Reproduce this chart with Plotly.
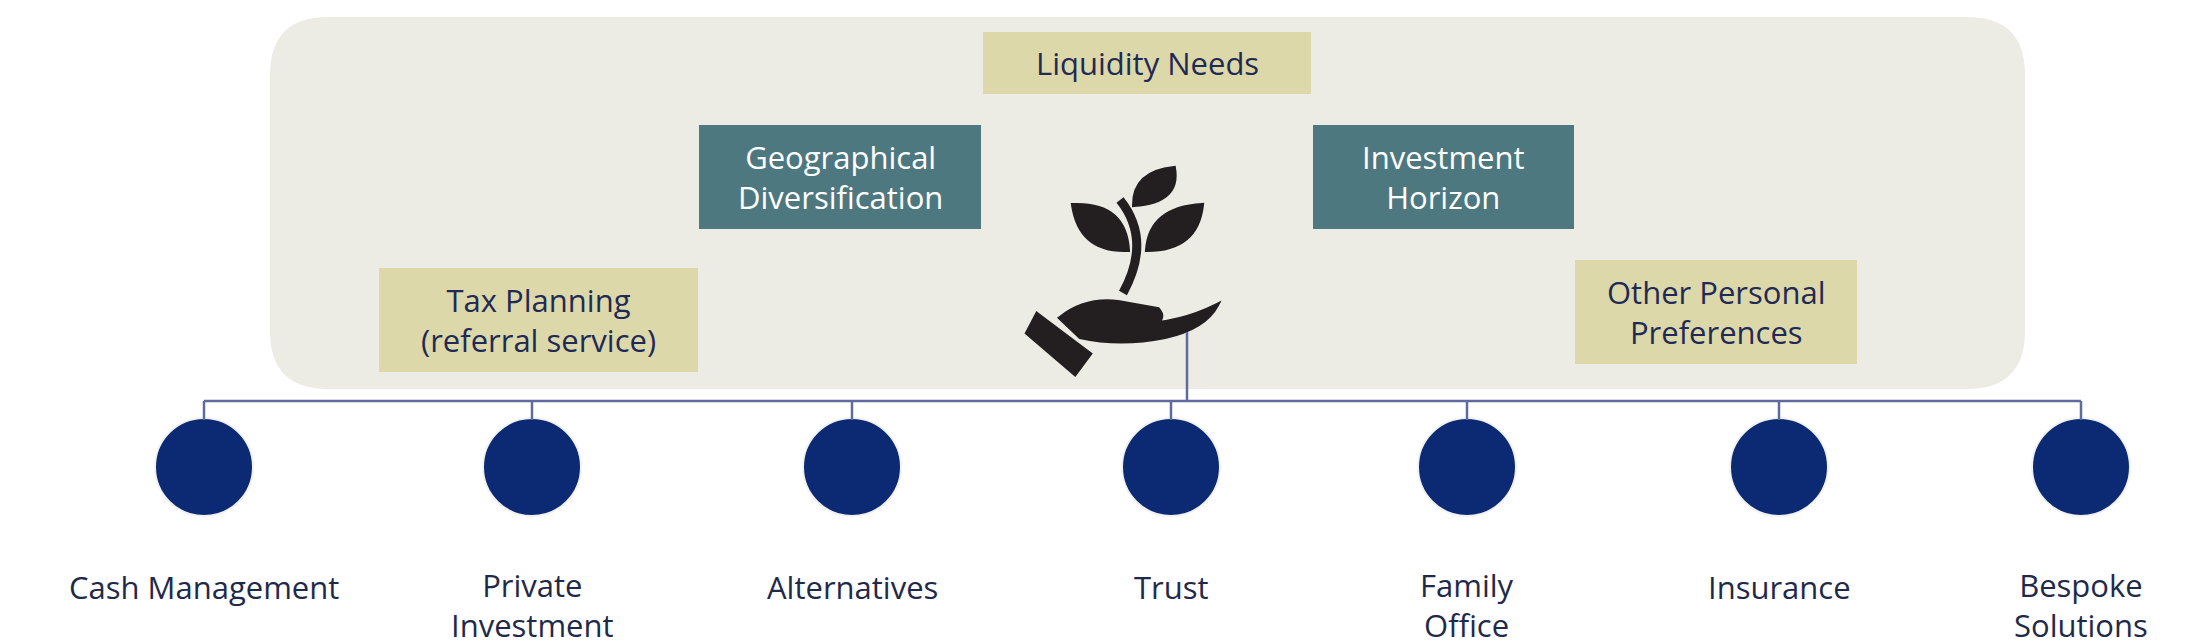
import plotly.graph_objects as go

# bottom service row
services = ['Cash Management', 'Private<br>Investment', 'Alternatives', 'Trust',
            'Family<br>Office', 'Insurance', 'Bespoke<br>Solutions']
service_x = [204, 532, 852, 1171, 1467, 1779, 2081]

# consideration boxes: label, x0, x1, y0, y1, style
boxes = [
    ('Liquidity Needs', 983, 1311, 32, 94, 'sand'),
    ('Geographical<br>Diversification', 699, 981, 125, 229, 'teal'),
    ('Investment<br>Horizon', 1313, 1574, 125, 229, 'teal'),
    ('Tax Planning<br>(referral service)', 379, 698, 268, 372, 'sand'),
    ('Other Personal<br>Preferences', 1575, 1857, 260, 364, 'sand'),
]
fills = {'sand': '#DDD8AA', 'teal': '#4E7880'}
fonts = {'sand': '#1F2A55', 'teal': '#FFFFFF'}

W, H = 2202, 644
off = 8  # page body margin
line_c = '#5F6A9E'
text_c = '#1F2A4A'
font = 'Open Sans, Lato, sans-serif'

fig = go.Figure()
shapes = []

# background panel
x0, x1, y0, y1, r = 270, 2025, 17, 389, 58
shapes.append(dict(type='path', layer='below', line=dict(width=0), fillcolor='#ECEBE4',
                   path=f'M{x0+r},{y0} L{x1-r},{y0} Q{x1},{y0} {x1},{y0+r} L{x1},{y1-r} '
                        f'Q{x1},{y1} {x1-r},{y1} L{x0+r},{y1} Q{x0},{y1} {x0},{y1-r} '
                        f'L{x0},{y0+r} Q{x0},{y0} {x0+r},{y0} Z'))

for lab, bx0, bx1, by0, by1, st in boxes:
    shapes.append(dict(type='rect', x0=bx0, x1=bx1, y0=by0, y1=by1,
                       fillcolor=fills[st], line=dict(width=0)))
    fig.add_annotation(x=(bx0 + bx1) / 2, y=(by0 + by1) / 2, text=lab, showarrow=False,
                       font=dict(family=font, size=31, color=fonts[st]), align='center')

# plant icon
ink = '#231F20'
for p in ['M1073,205 Q1125,203 1128,250 Q1080,252 1073,205 Z',
          'M1174,168 Q1180,202 1134,205 Q1134,172 1174,168 Z',
          'M1202,205 Q1197,250 1147,250 Q1150,208 1202,205 Z',
          'M1060,318 Q1085,298 1118,302 L1158,309 Q1166,318 1155,323 L1130,324 '
          'Q1175,326 1217,305 Q1205,328 1165,337 Q1120,346 1080,337 Z',
          'M1037,314 L1090,354 L1075,374 L1027,333 Z']:
    shapes.append(dict(type='path', path=p, fillcolor=ink, line=dict(color=ink, width=4)))
shapes.append(dict(type='path', path='M1120,200 Q1152,240 1123,293',
                   line=dict(color=ink, width=9)))

# connectors
shapes.append(dict(type='line', x0=1187, x1=1187, y0=332, y1=401, line=dict(color=line_c, width=2.5)))
shapes.append(dict(type='line', x0=service_x[0], x1=service_x[-1], y0=401, y1=401,
                   line=dict(color=line_c, width=2.5)))
for sx in service_x:
    shapes.append(dict(type='line', x0=sx, x1=sx, y0=401, y1=420, line=dict(color=line_c, width=2.5)))

fig.add_trace(go.Scatter(x=service_x, y=[467] * len(service_x), mode='markers', hoverinfo='skip',
                         marker=dict(size=98, color='#0B2A73', line=dict(color='#F2F2F2', width=2))))

for lab, sx in zip(services, service_x):
    two = '<br>' in lab
    fig.add_annotation(x=sx, y=605 if two else 587, text=lab, showarrow=False,
                       font=dict(family=font, size=31, color=text_c), align='center')

fig.update_layout(width=W, height=H, margin=dict(l=0, r=0, t=0, b=0), showlegend=False,
                  paper_bgcolor='white', plot_bgcolor='white', shapes=shapes,
                  xaxis=dict(range=[off, W + off], visible=False, fixedrange=True),
                  yaxis=dict(range=[H + off, off], visible=False, fixedrange=True))
fig.write_html('out.html')
